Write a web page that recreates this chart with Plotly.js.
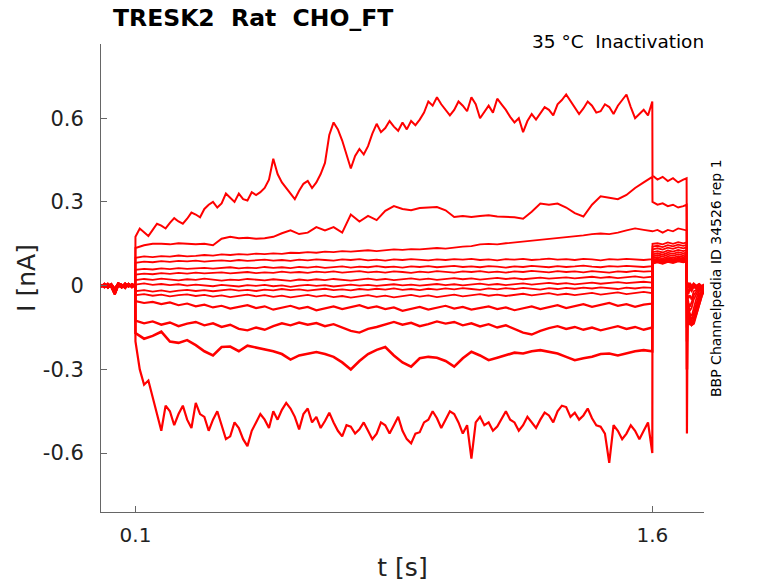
<!DOCTYPE html>
<html>
<head>
<meta charset="utf-8">
<script src="https://cdn.plot.ly/plotly-3.0.1.min.js"></script>
<style>
  html, body { margin: 0; padding: 0; background: #fff; }
  #chart { width: 778px; height: 583px; }
</style>
</head>
<body>
<div id="chart"></div>
<script>
/* ── Time bases (s) ─────────────────────────────────────────────────── */
const T_BASE = [0, 0.01, 0.02, 0.03, 0.04, 0.05, 0.06, 0.07, 0.08, 0.09, 0.0995];
const T_STEP = [0.1, 0.125, 0.15, 0.175, 0.2, 0.225, 0.25, 0.275, 0.3, 0.325,
  0.35, 0.375, 0.4, 0.425, 0.45, 0.475, 0.5, 0.525, 0.55, 0.575,
  0.6, 0.625, 0.65, 0.675, 0.7, 0.725, 0.75, 0.775, 0.8, 0.825,
  0.85, 0.875, 0.9, 0.925, 0.95, 0.975, 1.0, 1.025, 1.05, 1.075,
  1.1, 1.125, 1.15, 1.175, 1.2, 1.225, 1.25, 1.275, 1.3, 1.325,
  1.35, 1.375, 1.4, 1.425, 1.45, 1.475, 1.5, 1.525, 1.55, 1.575, 1.6];
// finer sampling for the two noisiest sweeps
const T_STEP_FINE = [
  0.1, 0.1125, 0.125, 0.1375, 0.15, 0.1625, 0.175, 0.1875,
  0.2, 0.2125, 0.225, 0.2375, 0.25, 0.2625, 0.275, 0.2875,
  0.3, 0.3125, 0.325, 0.3375, 0.35, 0.3625, 0.375, 0.3875,
  0.4, 0.4125, 0.425, 0.4375, 0.45, 0.4625, 0.475, 0.4875,
  0.5, 0.5125, 0.525, 0.5375, 0.55, 0.5625, 0.575, 0.5875,
  0.6, 0.6125, 0.625, 0.6375, 0.65, 0.6625, 0.675, 0.6875,
  0.7, 0.7125, 0.725, 0.7375, 0.75, 0.7625, 0.775, 0.7875,
  0.8, 0.8125, 0.825, 0.8375, 0.85, 0.8625, 0.875, 0.8875,
  0.9, 0.9125, 0.925, 0.9375, 0.95, 0.9625, 0.975, 0.9875,
  1.0, 1.0125, 1.025, 1.0375, 1.05, 1.0625, 1.075, 1.0875,
  1.1, 1.1125, 1.125, 1.1375, 1.15, 1.1625, 1.175, 1.1875,
  1.2, 1.2125, 1.225, 1.2375, 1.25, 1.2625, 1.275, 1.2875,
  1.3, 1.3125, 1.325, 1.3375, 1.35, 1.3625, 1.375, 1.3875,
  1.4, 1.4125, 1.425, 1.4375, 1.45, 1.4625, 1.475, 1.4875,
  1.5, 1.5125, 1.525, 1.5375, 1.55, 1.5625, 1.575, 1.5875,
  1.6];
const T_TEST = [1.6005, 1.615, 1.63, 1.645, 1.66, 1.675, 1.69, 1.6995];
const T_TAIL = [1.7005, 1.702, 1.705, 1.709, 1.714, 1.72, 1.728, 1.736, 1.744, 1.75];

/* ── Holding baseline (nA) ─────────────────────────────────────────── */
const BASE_A = [0.003, -0.005, 0.006, -0.004, -0.03, 0.002, -0.006, 0.007, -0.003, 0.005, -0.001];
const BASE_B = [-0.004, 0.006, -0.007, 0.005, -0.012, 0.008, 0.003, -0.008, 0.006, -0.005, 0.004];

/* ── Conditioning step, one array per sweep (nA) ───────────────────── */
const STEP_1 = [
  0.175, 0.205, 0.19, 0.178, 0.20, 0.222, 0.215, 0.205,
  0.225, 0.242, 0.23, 0.222, 0.24, 0.262, 0.255, 0.245,
  0.275, 0.29, 0.30, 0.28, 0.295, 0.33, 0.315, 0.30,
  0.33, 0.31, 0.305, 0.335, 0.325, 0.335, 0.35, 0.38,
  0.455, 0.40, 0.37, 0.35, 0.33, 0.31, 0.34, 0.365,
  0.375, 0.35, 0.37, 0.40, 0.44, 0.54, 0.585, 0.56,
  0.52, 0.47, 0.42, 0.465, 0.49, 0.47, 0.50, 0.545,
  0.58, 0.55, 0.565, 0.59, 0.57, 0.555, 0.585, 0.56,
  0.59, 0.575, 0.595, 0.62, 0.66, 0.645, 0.675, 0.65,
  0.63, 0.61, 0.63, 0.66, 0.645, 0.625, 0.675, 0.65,
  0.60, 0.625, 0.645, 0.62, 0.67, 0.65, 0.63, 0.605,
  0.585, 0.60, 0.55, 0.59, 0.615, 0.595, 0.62, 0.64,
  0.63, 0.61, 0.65, 0.665, 0.685, 0.66, 0.64, 0.615,
  0.635, 0.66, 0.645, 0.62, 0.625, 0.65, 0.64, 0.615,
  0.645, 0.665, 0.685, 0.64, 0.60, 0.615, 0.63, 0.61,
  0.66];
const STEP_2 = [0.135, 0.145, 0.15, 0.15, 0.148, 0.152, 0.15, 0.148, 0.15, 0.145,
  0.168, 0.175, 0.17, 0.172, 0.168, 0.17, 0.175, 0.188, 0.198, 0.185,
  0.19, 0.21, 0.198, 0.21, 0.19, 0.255, 0.23, 0.25, 0.235, 0.268,
  0.285, 0.275, 0.27, 0.278, 0.28, 0.282, 0.27, 0.246, 0.25, 0.246,
  0.25, 0.252, 0.248, 0.246, 0.245, 0.24, 0.265, 0.294, 0.29, 0.294,
  0.28, 0.26, 0.248, 0.29, 0.32, 0.315, 0.31, 0.325, 0.35, 0.37, 0.39];
const STEP_3 = [0.100, 0.105, 0.102, 0.106, 0.104, 0.108, 0.105, 0.107, 0.110, 0.108,
  0.112, 0.110, 0.113, 0.111, 0.115, 0.113, 0.116, 0.114, 0.118, 0.117,
  0.120, 0.118, 0.122, 0.120, 0.124, 0.122, 0.125, 0.127, 0.124, 0.127,
  0.130, 0.128, 0.131, 0.130, 0.133, 0.135, 0.133, 0.137, 0.140, 0.142,
  0.148, 0.150, 0.148, 0.152, 0.155, 0.158, 0.160, 0.163, 0.168, 0.170,
  0.172, 0.175, 0.180, 0.185, 0.187, 0.185, 0.190, 0.198, 0.205, 0.200, 0.195];
const STEP_4 = [0.082, 0.086, 0.084, 0.088, 0.085, 0.089, 0.087, 0.090, 0.086, 0.089,
  0.091, 0.088, 0.092, 0.089, 0.091, 0.093, 0.090, 0.092, 0.089, 0.093,
  0.091, 0.094, 0.092, 0.090, 0.094, 0.092, 0.095, 0.091, 0.093, 0.090,
  0.094, 0.092, 0.095, 0.093, 0.091, 0.094, 0.092, 0.095, 0.093, 0.096,
  0.092, 0.094, 0.091, 0.095, 0.093, 0.096, 0.092, 0.094, 0.097, 0.093,
  0.095, 0.092, 0.096, 0.094, 0.091, 0.095, 0.093, 0.096, 0.094, 0.092, 0.095];
const STEP_5 = [0.057, 0.060, 0.058, 0.062, 0.059, 0.063, 0.060, 0.062, 0.064, 0.061,
  0.063, 0.066, 0.062, 0.065, 0.063, 0.067, 0.064, 0.066, 0.063, 0.067,
  0.065, 0.068, 0.064, 0.067, 0.069, 0.065, 0.068, 0.066, 0.070, 0.066,
  0.068, 0.065, 0.069, 0.067, 0.070, 0.066, 0.068, 0.071, 0.067, 0.069,
  0.066, 0.070, 0.068, 0.065, 0.069, 0.067, 0.071, 0.068, 0.066, 0.070,
  0.067, 0.069, 0.072, 0.068, 0.066, 0.070, 0.068, 0.071, 0.069, 0.067, 0.070];
const STEP_6 = [0.040, 0.043, 0.041, 0.045, 0.042, 0.046, 0.043, 0.047, 0.044, 0.046,
  0.048, 0.044, 0.047, 0.049, 0.045, 0.048, 0.046, 0.050, 0.047, 0.049,
  0.046, 0.050, 0.048, 0.051, 0.047, 0.049, 0.052, 0.048, 0.050, 0.047,
  0.051, 0.049, 0.046, 0.050, 0.048, 0.052, 0.049, 0.047, 0.051, 0.049,
  0.052, 0.048, 0.050, 0.047, 0.051, 0.049, 0.053, 0.050, 0.048, 0.052,
  0.049, 0.051, 0.048, 0.052, 0.050, 0.047, 0.051, 0.049, 0.053, 0.050, 0.052];
const STEP_7 = [0.020, 0.024, 0.021, 0.025, 0.022, 0.019, 0.023, 0.021, 0.025, 0.022,
  0.018, 0.022, 0.020, 0.024, 0.021, 0.019, 0.023, 0.020, 0.017, 0.022,
  0.019, 0.023, 0.020, 0.024, 0.021, 0.018, 0.022, 0.025, 0.021, 0.024,
  0.020, 0.023, 0.026, 0.022, 0.025, 0.021, 0.024, 0.027, 0.023, 0.026,
  0.022, 0.025, 0.028, 0.024, 0.027, 0.023, 0.026, 0.029, 0.025, 0.028,
  0.030, 0.026, 0.029, 0.032, 0.028, 0.031, 0.027, 0.030, 0.033, 0.029, 0.032];
const STEP_8 = [0.004, 0.008, 0.003, 0.006, 0.002, 0.005, 0.000, 0.004, 0.001, -0.002,
  0.003, 0.000, -0.003, 0.002, -0.001, 0.003, -0.002, 0.001, -0.004, 0.000,
  0.003, -0.001, 0.002, -0.003, 0.001, 0.004, 0.000, 0.003, -0.001, 0.002,
  0.005, 0.001, 0.004, 0.000, 0.003, 0.006, 0.002, 0.005, 0.001, 0.004,
  0.007, 0.003, 0.006, 0.002, 0.005, 0.008, 0.004, 0.007, 0.010, 0.006,
  0.009, 0.005, 0.008, 0.011, 0.007, 0.010, 0.013, 0.009, 0.012, 0.014, 0.011];
const STEP_9 = [-0.020, -0.016, -0.021, -0.017, -0.022, -0.018, -0.015, -0.019, -0.016, -0.020,
  -0.017, -0.013, -0.018, -0.015, -0.019, -0.014, -0.017, -0.012, -0.016, -0.013,
  -0.018, -0.014, -0.011, -0.016, -0.013, -0.017, -0.012, -0.015, -0.011, -0.014,
  -0.010, -0.015, -0.012, -0.016, -0.011, -0.014, -0.010, -0.013, -0.009, -0.012,
  -0.015, -0.010, -0.013, -0.009, -0.012, -0.008, -0.011, -0.014, -0.009, -0.012,
  -0.008, -0.011, -0.007, -0.010, -0.006, -0.009, -0.012, -0.007, -0.010, -0.006, -0.008];
const STEP_10 = [-0.034, -0.030, -0.036, -0.032, -0.038, -0.034, -0.031, -0.037, -0.033, -0.039,
  -0.035, -0.041, -0.036, -0.032, -0.038, -0.034, -0.040, -0.036, -0.042, -0.037,
  -0.033, -0.039, -0.035, -0.041, -0.037, -0.043, -0.038, -0.034, -0.040, -0.036,
  -0.042, -0.037, -0.033, -0.039, -0.035, -0.041, -0.036, -0.032, -0.038, -0.034,
  -0.030, -0.036, -0.032, -0.037, -0.033, -0.029, -0.035, -0.031, -0.027, -0.033,
  -0.029, -0.034, -0.030, -0.026, -0.032, -0.028, -0.024, -0.030, -0.026, -0.022, -0.027];
const STEP_11 = [-0.055, -0.062, -0.058, -0.066, -0.060, -0.070, -0.064, -0.074, -0.068, -0.078,
  -0.072, -0.082, -0.076, -0.070, -0.080, -0.074, -0.086, -0.078, -0.072, -0.082,
  -0.076, -0.088, -0.080, -0.074, -0.084, -0.078, -0.070, -0.080, -0.074, -0.084,
  -0.078, -0.090, -0.082, -0.076, -0.086, -0.080, -0.072, -0.082, -0.076, -0.086,
  -0.080, -0.074, -0.084, -0.078, -0.088, -0.080, -0.074, -0.084, -0.076, -0.070,
  -0.080, -0.074, -0.066, -0.076, -0.070, -0.062, -0.072, -0.066, -0.076, -0.068, -0.064];
const STEP_12 = [-0.125, -0.135, -0.128, -0.140, -0.132, -0.145, -0.136, -0.130, -0.142, -0.135,
  -0.148, -0.140, -0.155, -0.160, -0.150, -0.158, -0.145, -0.135, -0.142, -0.132,
  -0.140, -0.134, -0.145, -0.138, -0.150, -0.162, -0.168, -0.155, -0.148, -0.138,
  -0.130, -0.140, -0.133, -0.145, -0.138, -0.128, -0.136, -0.130, -0.142, -0.135,
  -0.146, -0.138, -0.150, -0.142, -0.155, -0.168, -0.175, -0.162, -0.152, -0.145,
  -0.155, -0.148, -0.158, -0.150, -0.160, -0.152, -0.145, -0.155, -0.148, -0.158, -0.150];
const STEP_13 = [-0.17, -0.19, -0.18, -0.165, -0.2, -0.205, -0.195, -0.213, -0.235, -0.25,
  -0.22, -0.218, -0.235, -0.215, -0.222, -0.23, -0.235, -0.245, -0.265, -0.25,
  -0.243, -0.238, -0.245, -0.255, -0.275, -0.3, -0.27, -0.245, -0.23, -0.22,
  -0.25, -0.275, -0.29, -0.26, -0.255, -0.258, -0.27, -0.29, -0.26, -0.237,
  -0.25, -0.267, -0.258, -0.249, -0.24, -0.243, -0.235, -0.231, -0.238, -0.243,
  -0.255, -0.267, -0.26, -0.255, -0.245, -0.243, -0.25, -0.243, -0.235, -0.231, -0.235];
const STEP_14 = [
  -0.20, -0.30, -0.355, -0.34, -0.40, -0.47, -0.52, -0.43,
  -0.45, -0.50, -0.46, -0.43, -0.48, -0.51, -0.42, -0.46,
  -0.47, -0.52, -0.48, -0.45, -0.50, -0.55, -0.54, -0.49,
  -0.51, -0.55, -0.575, -0.52, -0.49, -0.46, -0.48, -0.51,
  -0.45, -0.48, -0.445, -0.42, -0.44, -0.47, -0.515, -0.46,
  -0.44, -0.49, -0.47, -0.51, -0.485, -0.455, -0.49, -0.52,
  -0.54, -0.50, -0.505, -0.53, -0.515, -0.49, -0.52, -0.55,
  -0.53, -0.49, -0.50, -0.53, -0.50, -0.47, -0.52, -0.55,
  -0.565, -0.53, -0.525, -0.49, -0.48, -0.45, -0.475, -0.51,
  -0.48, -0.45, -0.46, -0.49, -0.53, -0.50, -0.62, -0.49,
  -0.47, -0.50, -0.49, -0.52, -0.505, -0.48, -0.45, -0.48,
  -0.49, -0.52, -0.50, -0.47, -0.49, -0.51, -0.48, -0.455,
  -0.465, -0.49, -0.45, -0.43, -0.435, -0.47, -0.455, -0.48,
  -0.465, -0.44, -0.475, -0.50, -0.505, -0.53, -0.635, -0.50,
  -0.52, -0.55, -0.53, -0.50, -0.52, -0.55, -0.52, -0.49,
  -0.60];

/* ── Test pulse 1.6–1.7 s (nA) ─────────────────────────────────────── */
const TEST_1 = [0.395, 0.38, 0.39, 0.375, 0.385, 0.37, 0.38, 0.385];
const TEST_2 = [0.30, 0.29, 0.295, 0.285, 0.29, 0.28, 0.285, 0.29];
const TEST_3 = [0.195, 0.20, 0.19, 0.20, 0.195, 0.205, 0.20, 0.198];
const TEST_4 = [0.15, 0.152, 0.148, 0.155, 0.15, 0.156, 0.152, 0.155];
const TEST_5 = [0.14, 0.143, 0.138, 0.145, 0.141, 0.147, 0.143, 0.146];
const TEST_6 = [0.13, 0.134, 0.129, 0.136, 0.132, 0.138, 0.134, 0.137];
const TEST_7 = [0.12, 0.124, 0.119, 0.126, 0.122, 0.128, 0.124, 0.127];
const TEST_8 = [0.112, 0.116, 0.111, 0.118, 0.114, 0.12, 0.116, 0.119];
const TEST_9 = [0.105, 0.109, 0.104, 0.111, 0.107, 0.113, 0.109, 0.112];
const TEST_10 = [0.098, 0.102, 0.097, 0.104, 0.1, 0.106, 0.102, 0.105];
const TEST_11 = [0.092, 0.096, 0.091, 0.098, 0.094, 0.1, 0.096, 0.099];
const TEST_12 = [0.087, 0.091, 0.086, 0.093, 0.089, 0.095, 0.091, 0.094];
const TEST_13 = [0.083, 0.087, 0.082, 0.089, 0.085, 0.091, 0.087, 0.09];
const TEST_14 = [0.08, 0.084, 0.079, 0.086, 0.082, 0.088, 0.084, 0.087];

/* ── Return to holding (nA) ────────────────────────────────────────── */
const TAIL_1 = [-0.02, 0.01, -0.005, 0.008, -0.004, 0.006, -0.002, 0.005, -0.003, 0.004];
const TAIL_2 = [-0.015, 0.012, 0.0, 0.01, -0.002, 0.008, 0.0, 0.006, -0.002, 0.005];
const TAIL_3 = [-0.01, 0.008, -0.008, 0.004, -0.01, 0.002, -0.006, 0.003, -0.004, 0.002];
const TAIL_4 = [-0.03, -0.01, -0.02, -0.005, -0.015, 0.0, -0.01, 0.002, -0.006, 0.0];
const TAIL_5 = [-0.04, -0.02, -0.03, -0.012, -0.02, -0.005, -0.012, 0.0, -0.008, -0.002];
const TAIL_6 = [-0.05, -0.03, -0.045, -0.035, -0.05, -0.02, -0.015, -0.005, -0.01, -0.004];
const TAIL_7 = [-0.06, -0.04, -0.06, -0.075, -0.06, -0.035, -0.02, -0.01, -0.012, -0.005];
const TAIL_8 = [-0.08, -0.05, -0.07, -0.09, -0.08, -0.05, -0.03, -0.015, -0.012, -0.006];
const TAIL_9 = [-0.1, -0.06, -0.08, -0.1, -0.11, -0.08, -0.045, -0.02, -0.015, -0.008];
const TAIL_10 = [-0.12, -0.07, -0.09, -0.11, -0.125, -0.1, -0.06, -0.03, -0.018, -0.01];
const TAIL_11 = [-0.15, -0.08, -0.1, -0.12, -0.135, -0.12, -0.075, -0.04, -0.02, -0.012];
const TAIL_12 = [-0.2, -0.1, -0.12, -0.13, -0.14, -0.13, -0.09, -0.05, -0.025, -0.014];
const TAIL_13 = [-0.3, -0.12, -0.13, -0.135, -0.14, -0.135, -0.1, -0.06, -0.03, -0.016];
const TAIL_14 = [-0.53, -0.14, -0.13, -0.14, -0.13, -0.125, -0.1, -0.065, -0.035, -0.02];

const STEPS = [STEP_1, STEP_2, STEP_3, STEP_4, STEP_5, STEP_6, STEP_7,
  STEP_8, STEP_9, STEP_10, STEP_11, STEP_12, STEP_13, STEP_14];
const STEP_TIMES = [T_STEP_FINE, T_STEP, T_STEP, T_STEP, T_STEP, T_STEP, T_STEP,
  T_STEP, T_STEP, T_STEP, T_STEP, T_STEP, T_STEP, T_STEP_FINE];
const TESTS = [TEST_1, TEST_2, TEST_3, TEST_4, TEST_5, TEST_6, TEST_7,
  TEST_8, TEST_9, TEST_10, TEST_11, TEST_12, TEST_13, TEST_14];
const TAILS = [TAIL_1, TAIL_2, TAIL_3, TAIL_4, TAIL_5, TAIL_6, TAIL_7,
  TAIL_8, TAIL_9, TAIL_10, TAIL_11, TAIL_12, TAIL_13, TAIL_14];

const Y_TICKS = [-0.6, -0.3, 0, 0.3, 0.6];
const Y_TICK_TEXT = ['-0.6', '-0.3', '0', '0.3', '0.6'];
const X_TICKS = [0.1, 1.6];
const X_TICK_TEXT = ['0.1', '1.6'];

/* ── Style ─────────────────────────────────────────────────────────── */
const FONT = 'DejaVu Sans, sans-serif';
const AXIS_COLOR = '#666666';
const TRACE_COLOR = '#ff0000';
// noisier sweeps get a thicker stroke so they read as a fuzzy band
const WIDTHS = [2.0, 2.0, 1.8, 1.8, 1.8, 1.8, 1.8, 1.8, 1.8, 1.8, 2.2, 2.4, 2.6, 2.2];

function renderTraces() {
  const el = document.getElementById('chart');

  const traces = STEPS.map(function (step, i) {
    const base = i % 2 === 0 ? BASE_A : BASE_B;
    return {
      type: 'scatter',
      mode: 'lines',
      x: T_BASE.concat(STEP_TIMES[i], T_TEST, T_TAIL),
      y: base.concat(step, TESTS[i], TAILS[i]),
      line: { color: TRACE_COLOR, width: WIDTHS[i] },
      hoverinfo: 'skip',
    };
  });

  const layout = {
    width: 778,
    height: 583,
    paper_bgcolor: '#ffffff',
    plot_bgcolor: '#ffffff',
    showlegend: false,
    font: { family: FONT, color: '#000000', size: 20 },
    margin: { t: 44, r: 74, b: 71, l: 101 },
    title: {
      text: 'TRESK2  Rat  CHO_FT',
      font: { family: FONT, size: 23.5, color: '#000000', weight: 'bold' },
      xref: 'paper', x: 0.02, xanchor: 'left',
      yref: 'container', y: 1 - 18 / 583, yanchor: 'middle',
    },
    xaxis: {
      range: [0, 1.75],
      tickvals: X_TICKS,
      ticktext: X_TICK_TEXT,
      ticks: 'inside', ticklen: 6, tickcolor: AXIS_COLOR,
      ticklabelstandoff: 5,
      showline: true, linecolor: AXIS_COLOR, linewidth: 1,
      showgrid: false, zeroline: false,
      tickfont: { family: FONT, size: 20, color: '#222' },
      title: { text: 't [s]', font: { family: FONT, size: 25, color: '#222' }, standoff: 12 },
    },
    yaxis: {
      range: [-0.811, 0.866],
      tickvals: Y_TICKS,
      ticktext: Y_TICK_TEXT,
      ticks: 'inside', ticklen: 6, tickcolor: AXIS_COLOR,
      ticklabelstandoff: 12,
      showline: true, linecolor: AXIS_COLOR, linewidth: 1,
      showgrid: false, zeroline: false,
      tickfont: { family: FONT, size: 21, color: '#222' },
      title: { text: 'I [nA]', font: { family: FONT, size: 25, color: '#222' }, standoff: 0 },
    },
    annotations: [
      {
        text: '35 °C  Inactivation',
        xref: 'paper', yref: 'paper',
        x: 1.0 + 2 / 603, y: 1 + 3 / 468, xanchor: 'right', yanchor: 'middle',
        showarrow: false,
        font: { family: FONT, size: 18.5, color: '#000000' },
      },
      {
        text: 'BBP Channelpedia ID 34526 rep 1',
        xref: 'paper', yref: 'paper',
        x: (716 - 101) / 603, y: 0.5, xanchor: 'center', yanchor: 'middle',
        textangle: -90,
        showarrow: false,
        font: { family: FONT, size: 14, color: '#000000' },
      },
    ],
  };

  Plotly.newPlot(el, traces, layout, { displayModeBar: false, staticPlot: true });
}

renderTraces();
</script>
</body>
</html>
